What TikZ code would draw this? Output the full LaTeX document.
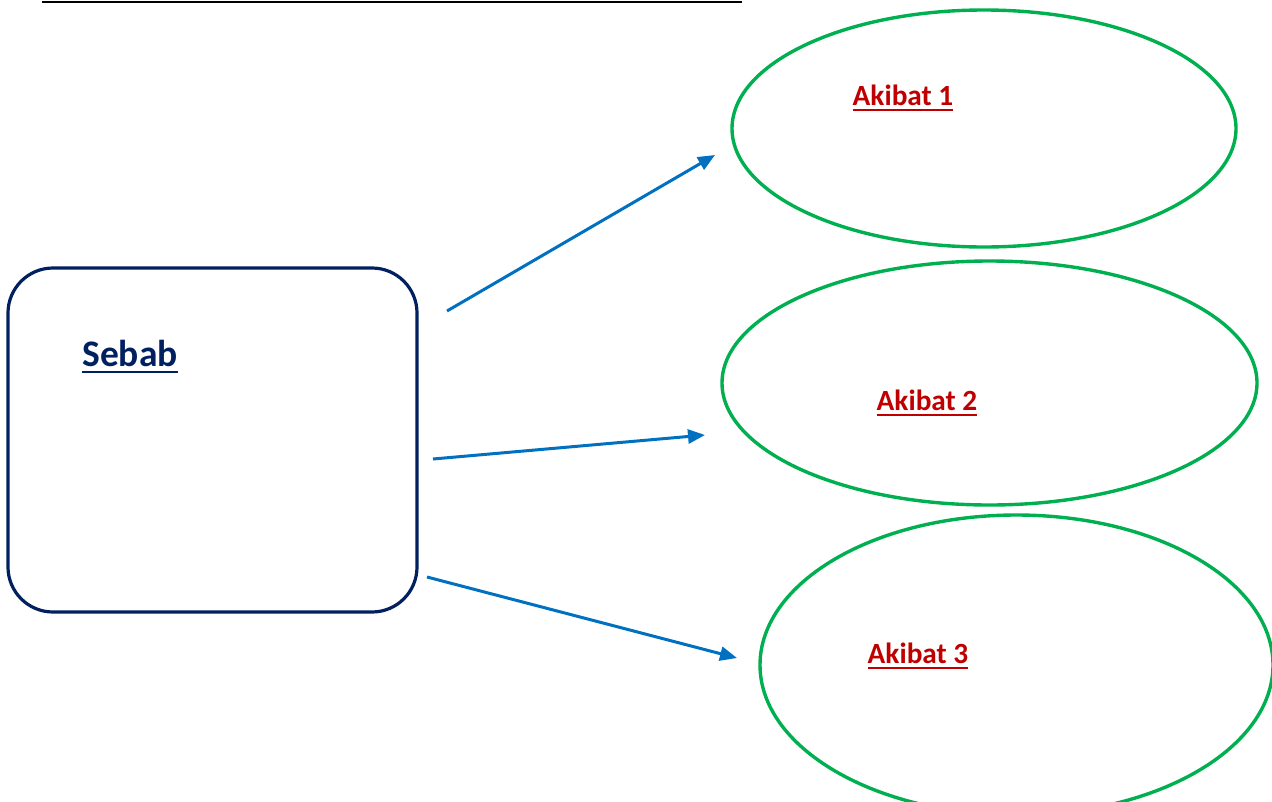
\documentclass[tikz,border=0pt]{standalone}
\usepackage{fontspec}
\setmainfont{Carlito}
\usetikzlibrary{shapes.geometric,arrows.meta}
\definecolor{navy}{HTML}{002060}
\definecolor{okgreen}{HTML}{00B050}
\definecolor{arrblue}{HTML}{0070C0}
\definecolor{darkred}{HTML}{C00000}
\newcommand{\ulbox}[2]{\tikz[baseline=(t.base)]{\node[inner sep=0pt,outer sep=0pt] (t) {#2}; \draw[line width=#1] ([yshift=-0.14em]t.base west) -- ([yshift=-0.14em]t.base east);}}
\tikzset{
  causebox/.style={draw=navy, line width=3.2pt, rounded corners=45pt, minimum width=409pt, minimum height=344pt, inner sep=0pt},
  effect/.style={draw=okgreen, line width=3.4pt, ellipse, inner sep=0pt},
  arr/.style={draw=arrblue, line width=3pt, -{Triangle[length=17pt,width=14pt]}},
  causetext/.style={font=\fontsize{37.5pt}{44pt}\selectfont\bfseries, text=navy},
  effecttext/.style={font=\fontsize{29.3pt}{35pt}\selectfont\bfseries, text=darkred},
}
\begin{document}
\begin{tikzpicture}[x=1pt,y=-1pt]
\clip (0,0) rectangle (1272,801);
\fill[white] (0,0) rectangle (1272,801);
\coordinate (tl1) at (42,2);
\coordinate (tl2) at (742,2);
\draw[line width=2pt] (tl1) -- (tl2);
\node[causebox] (cause) at (212.5,440) {};
\node[causetext] (causelbl) at (130,357) {\ulbox{2.6pt}{Sebab}};
\node[effect, minimum width=504pt, minimum height=237pt] (e1) at (984,128.5) {};
\node[effect, minimum width=535pt, minimum height=244pt] (e2) at (989.5,383) {};
\node[effect, minimum width=513pt, minimum height=300pt] (e3) at (1016.5,665) {};
\node[effecttext] (l1) at (903,98) {\ulbox{2.2pt}{Akibat 1}};
\node[effecttext] (l2) at (927,403) {\ulbox{2.2pt}{Akibat 2}};
\node[effecttext] (l3) at (918,656) {\ulbox{2.2pt}{Akibat 3}};
\coordinate (a1s) at (447,311);
\coordinate (a1e) at (715,155);
\coordinate (a2s) at (433,459);
\coordinate (a2e) at (705,435);
\coordinate (a3s) at (427,577);
\coordinate (a3e) at (737,658);
\draw[arr] (a1s) -- (a1e);
\draw[arr] (a2s) -- (a2e);
\draw[arr] (a3s) -- (a3e);
\end{tikzpicture}
\end{document}
